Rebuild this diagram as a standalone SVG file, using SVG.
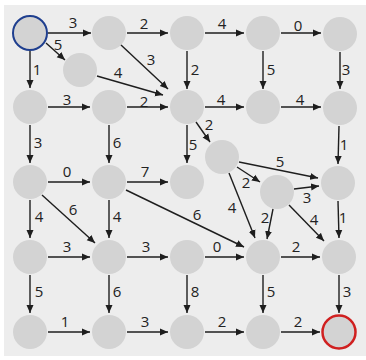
<svg xmlns="http://www.w3.org/2000/svg" width="366" height="360" viewBox="0 0 366 360">
<defs>
<marker id="ah" markerUnits="userSpaceOnUse" markerWidth="10" markerHeight="8" refX="8" refY="4" orient="auto">
<path d="M0,0.5 L8,4 L0,7.5 Z" fill="#1e1e1e"/>
</marker>
<style>
.n{fill:#d3d3d3}
.e line{stroke:#1e1e1e;stroke-width:1.4;marker-end:url(#ah)}
.l text{font-family:"Open Sans","Liberation Sans",sans-serif;font-size:15px;fill:#222;text-anchor:middle}
</style>
</defs>
<rect width="366" height="360" fill="#ffffff"/>
<rect x="4" y="5" width="362" height="351" fill="#ededed"/>
<g id="nodes">
<g id="A"><circle class="n" cx="30" cy="33" r="17" stroke="#1f3f8f" stroke-width="2"/></g>
<g id="B"><circle class="n" cx="109" cy="33" r="17"/></g>
<g id="C"><circle class="n" cx="187" cy="33" r="17"/></g>
<g id="D"><circle class="n" cx="263" cy="33" r="17"/></g>
<g id="E"><circle class="n" cx="340" cy="34" r="17"/></g>
<g id="F"><circle class="n" cx="80" cy="70" r="17"/></g>
<g id="G"><circle class="n" cx="30" cy="107" r="17"/></g>
<g id="H"><circle class="n" cx="109" cy="107" r="17"/></g>
<g id="I"><circle class="n" cx="187" cy="107" r="17"/></g>
<g id="J"><circle class="n" cx="263" cy="107" r="17"/></g>
<g id="K"><circle class="n" cx="340" cy="108" r="17"/></g>
<g id="L"><circle class="n" cx="222" cy="157" r="17"/></g>
<g id="M"><circle class="n" cx="30" cy="182" r="17"/></g>
<g id="N"><circle class="n" cx="109" cy="182" r="17"/></g>
<g id="O"><circle class="n" cx="187" cy="182" r="17"/></g>
<g id="P"><circle class="n" cx="277" cy="192" r="17"/></g>
<g id="Q"><circle class="n" cx="338" cy="183" r="17"/></g>
<g id="R"><circle class="n" cx="30" cy="257" r="17"/></g>
<g id="S"><circle class="n" cx="109" cy="257" r="17"/></g>
<g id="T"><circle class="n" cx="187" cy="257" r="17"/></g>
<g id="U"><circle class="n" cx="263" cy="257" r="17"/></g>
<g id="V"><circle class="n" cx="339" cy="257" r="17"/></g>
<g id="W"><circle class="n" cx="30" cy="332" r="17"/></g>
<g id="X"><circle class="n" cx="109" cy="332" r="17"/></g>
<g id="Y"><circle class="n" cx="187" cy="332" r="17"/></g>
<g id="Z"><circle class="n" cx="263" cy="332" r="17"/></g>
<g id="End"><circle class="n" cx="339" cy="332" r="16.5" stroke="#d02020" stroke-width="2.5"/></g>
</g>
<g id="connectors" class="e">
<line x1="48" y1="33" x2="91" y2="33"/>
<line x1="46" y1="43" x2="65" y2="60"/>
<line x1="30" y1="51" x2="30" y2="88"/>
<line x1="127" y1="33" x2="168" y2="33"/>
<line x1="121" y1="45" x2="168" y2="89"/>
<line x1="97" y1="76" x2="163" y2="95"/>
<line x1="205" y1="33" x2="244" y2="33"/>
<line x1="187" y1="51" x2="187" y2="89"/>
<line x1="281" y1="33" x2="321" y2="33"/>
<line x1="263" y1="51" x2="263" y2="89"/>
<line x1="340" y1="52" x2="340" y2="89"/>
<line x1="48" y1="107" x2="90" y2="107"/>
<line x1="127" y1="107" x2="168" y2="107"/>
<line x1="205" y1="107" x2="244" y2="107"/>
<line x1="281" y1="107" x2="321" y2="107"/>
<line x1="196" y1="122" x2="210" y2="142"/>
<line x1="187" y1="125" x2="187" y2="163"/>
<line x1="30" y1="125" x2="30" y2="163"/>
<line x1="109" y1="125" x2="109" y2="163"/>
<line x1="339" y1="126" x2="338" y2="164"/>
<line x1="48" y1="182" x2="90" y2="182"/>
<line x1="127" y1="182" x2="168" y2="182"/>
<line x1="239" y1="162" x2="318" y2="178"/>
<line x1="237" y1="167" x2="260" y2="182"/>
<line x1="294" y1="189" x2="319" y2="186"/>
<line x1="229" y1="173" x2="255" y2="238"/>
<line x1="273" y1="209" x2="267" y2="239"/>
<line x1="289" y1="205" x2="324" y2="241"/>
<line x1="338" y1="201" x2="339" y2="238"/>
<line x1="30" y1="200" x2="30" y2="238"/>
<line x1="42" y1="195" x2="95" y2="243"/>
<line x1="109" y1="200" x2="109" y2="238"/>
<line x1="126" y1="190" x2="244" y2="247"/>
<line x1="48" y1="257" x2="90" y2="257"/>
<line x1="127" y1="257" x2="168" y2="257"/>
<line x1="205" y1="257" x2="244" y2="257"/>
<line x1="281" y1="257" x2="320" y2="257"/>
<line x1="30" y1="275" x2="30" y2="313"/>
<line x1="109" y1="275" x2="109" y2="313"/>
<line x1="187" y1="275" x2="187" y2="313"/>
<line x1="263" y1="275" x2="263" y2="313"/>
<line x1="339" y1="275" x2="339" y2="313"/>
<line x1="48" y1="332" x2="90" y2="332"/>
<line x1="127" y1="332" x2="168" y2="332"/>
<line x1="205" y1="332" x2="244" y2="332"/>
<line x1="281" y1="332" x2="320" y2="332"/>
</g>
<g id="labels" class="l">
<text x="73" y="28">3</text>
<text x="144" y="29">2</text>
<text x="222" y="29">4</text>
<text x="298" y="31">0</text>
<text x="58" y="50">5</text>
<text x="37" y="75">1</text>
<text x="151" y="65">3</text>
<text x="118" y="78">4</text>
<text x="67" y="105">3</text>
<text x="144" y="107">2</text>
<text x="195" y="75">2</text>
<text x="271" y="75">5</text>
<text x="346" y="75">3</text>
<text x="221" y="105">4</text>
<text x="300" y="105">4</text>
<text x="38" y="148">3</text>
<text x="117" y="148">6</text>
<text x="193" y="150">5</text>
<text x="209" y="130">2</text>
<text x="344" y="150">1</text>
<text x="67" y="177">0</text>
<text x="145" y="177">7</text>
<text x="280" y="167">5</text>
<text x="246" y="188">2</text>
<text x="307" y="203">3</text>
<text x="232" y="213">4</text>
<text x="265" y="223">2</text>
<text x="314" y="225">4</text>
<text x="343" y="223">1</text>
<text x="39" y="222">4</text>
<text x="73" y="215">6</text>
<text x="117" y="222">4</text>
<text x="197" y="220">6</text>
<text x="67" y="252">3</text>
<text x="146" y="252">3</text>
<text x="217" y="252">0</text>
<text x="296" y="252">2</text>
<text x="39" y="297">5</text>
<text x="117" y="297">6</text>
<text x="195" y="297">8</text>
<text x="271" y="297">5</text>
<text x="347" y="297">3</text>
<text x="65" y="327">1</text>
<text x="145" y="327">3</text>
<text x="222" y="327">2</text>
<text x="298" y="327">2</text>
</g>
</svg>
